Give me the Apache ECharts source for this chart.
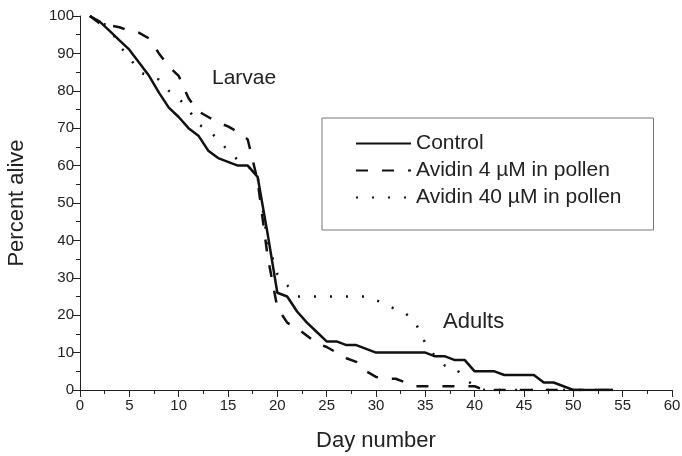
<!DOCTYPE html>
<html>
<head>
<meta charset="utf-8">
<script src="https://cdn.jsdelivr.net/npm/echarts@6/dist/echarts.min.js"></script>
<style>
  html, body { margin: 0; padding: 0; background: #fff; }
  #main { width: 682px; height: 456px; }
</style>
</head>
<body>
<div id="main"></div>
<script>
// day number 1..54
var days = [];
for (var i = 1; i <= 54; i++) days.push(i);

// percent alive
var control = [100, 98.5, 96, 93.5, 91, 87.5, 84, 79.5, 75.5, 73, 70, 68, 64, 62, 61, 60, 60, 57, 42, 26,
  25, 21, 18, 15.5, 13, 13, 12, 12, 11, 10, 10, 10, 10, 10, 10, 9, 9, 8, 8, 5,
  5, 5, 4, 4, 4, 4, 2, 2, 1, 0, 0, 0, 0, 0];
var avidin4 = [100, 98, 97.5, 97, 96, 95.5, 94, 90, 86.5, 84, 78, 74.5, 73, 71.5, 70.5, 69, 67, 56, 36, 22,
  18, 16.5, 14.5, 12.5, 11.5, 10, 8.5, 7.5, 5, 3.5, 3, 3, 2, 1, 1, 1, 1, 1, 1, 1,
  0, 0, 0, 0, 0, 0, 0, 0, 0, 0, 0, 0, 0, 0];
var avidin40 = [100, 98.5, 97, 92, 89, 85, 84, 83, 80, 78, 75, 71, 69.5, 67, 64, 61.5, 60, 57, 40, 31,
  28, 25, 25, 25, 25, 25, 25, 25, 25, 24, 23, 21.5, 20.5, 18, 12.5, 9, 6.5, 6, 3, 1,
  0, 0, 0, 0, 0, 0, 0, 0, 0, 0, 0, 0, 0, 0];

function pairs(vals) {
  return days.map(function (d, i) { return [d, vals[i]]; });
}

var myChart = echarts.init(document.getElementById('main'));

var axisColor = '#222';
var font = 'Liberation Sans, Arial, sans-serif';

option = {
  backgroundColor: '#fff',
  animation: false,
  textStyle: { fontFamily: font },
  grid: { left: 80, right: 10, top: 16, bottom: 66, outerBoundsMode: 'none', containLabel: false },
  legend: {
    orient: 'vertical',
    left: 322,
    top: 118,
    padding: [15, 32, 22, 33],
    itemWidth: 55,
    itemHeight: 14,
    itemGap: 6,
    borderColor: '#777',
    borderWidth: 1,
    itemStyle: { color: 'rgba(0,0,0,0)', borderWidth: 0 },
    textStyle: { fontSize: 21, color: '#222', fontFamily: font },
    data: ['Control', 'Avidin 4 µM in pollen', 'Avidin 40 µM in pollen']
  },
  xAxis: {
    type: 'value',
    min: 0, max: 60, interval: 5,
    name: 'Day number',
    nameLocation: 'middle',
    nameGap: 40,
    nameTextStyle: { fontSize: 22, color: '#222' },
    axisLine: { lineStyle: { color: axisColor, width: 1 } },
    axisTick: { inside: false, length: 7, lineStyle: { color: axisColor } },
    minorTick: { show: true, splitNumber: 2, length: 4, lineStyle: { color: axisColor } },
    axisLabel: { fontSize: 15, color: '#222', margin: 8 },
    splitLine: { show: false }
  },
  yAxis: {
    type: 'value',
    min: 0, max: 100, interval: 10,
    name: 'Percent alive',
    nameLocation: 'middle',
    nameGap: 52,
    nameTextStyle: { fontSize: 22, color: '#222' },
    axisLine: { show: true, lineStyle: { color: axisColor, width: 1 } },
    axisTick: { show: true, inside: false, length: 7, lineStyle: { color: axisColor } },
    minorTick: { show: true, splitNumber: 2, length: 4, lineStyle: { color: axisColor } },
    axisLabel: { fontSize: 15, color: '#222', margin: 6 },
    splitLine: { show: false }
  },
  graphic: [
    { type: 'text', left: 212, top: 68, style: { text: 'Larvae', fontSize: 21, fill: '#222', fontFamily: font } },
    { type: 'text', left: 443, top: 311, style: { text: 'Adults', fontSize: 22, fill: '#222', fontFamily: font } }
  ],
  series: [
    {
      name: 'Control', type: 'line', symbol: 'none', showSymbol: false, z: 3,
      lineStyle: { color: '#111', width: 2.5, type: 'solid' },
      itemStyle: { color: '#111' },
      data: pairs(control)
    },
    {
      name: 'Avidin 4 µM in pollen', type: 'line', symbol: 'none', showSymbol: false, z: 2,
      lineStyle: { color: '#111', width: 2.5, type: [12, 14] },
      itemStyle: { color: '#111' },
      data: pairs(avidin4)
    },
    {
      name: 'Avidin 40 µM in pollen', type: 'line', symbol: 'none', showSymbol: false, z: 1,
      lineStyle: { color: '#111', width: 2.5, type: [2, 14] },
      itemStyle: { color: '#111' },
      data: pairs(avidin40)
    }
  ]
};

myChart.setOption(option, true);
</script>
</body>
</html>
